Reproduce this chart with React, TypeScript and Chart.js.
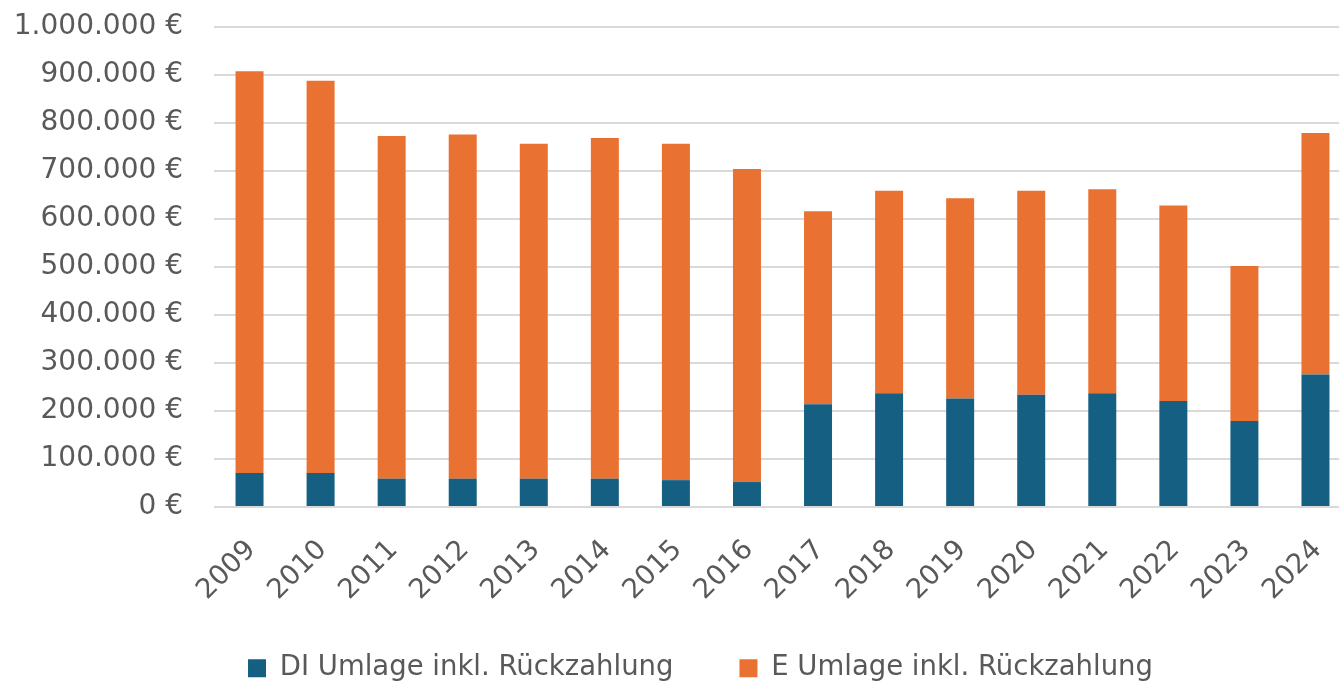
import React, { useEffect, useRef } from "react";
import { Chart, registerables } from "chart.js";

Chart.register(...registerables);

const years = ["2009", "2010", "2011", "2012", "2013", "2014", "2015", "2016", "2017", "2018", "2019", "2020", "2021", "2022", "2023", "2024"];
const diUmlage = [71000, 71000, 59000, 59000, 59000, 59000, 56000, 52000, 214000, 237000, 226000, 234000, 237000, 221000, 179000, 276000];
const eUmlage = [837000, 817000, 714000, 717000, 698000, 710000, 701000, 652000, 402000, 422000, 417000, 425000, 425000, 407000, 323000, 503000];
const seriesNames = ["DI Umlage inkl. Rückzahlung", "E Umlage inkl. Rückzahlung"];
const yMax = 1000000;
const yStep = 100000;

const FONT = "'DejaVu Sans', 'Liberation Sans', sans-serif";
const TEXT = "#595959";
const PAD_LEFT = 50;
const PAD_RIGHT = 10;

// Let the axis labels draw outside their own boxes (no clipping).
const unclipLabels = {
  id: "unclipLabels",
  afterLayout(chart: any) {
    if (chart.scales.x) chart.scales.x.bottom = chart.height;
    if (chart.scales.y) chart.scales.y.left = 0;
  },
};

export default function App() {
  const ref = useRef<HTMLCanvasElement | null>(null);

  useEffect(() => {
    if (!ref.current) return;
    const chart = new Chart(ref.current, {
      type: "bar",
      data: {
        labels: years,
        datasets: [
          { label: seriesNames[0], data: diUmlage, backgroundColor: "#156082" },
          { label: seriesNames[1], data: eUmlage, backgroundColor: "#E97132" },
        ],
      },
      plugins: [unclipLabels],
      options: {
        responsive: false,
        animation: false,
        layout: { padding: { left: PAD_LEFT, top: 27, right: PAD_RIGHT, bottom: 0 } },
        datasets: { bar: { categoryPercentage: 1, barPercentage: 0.394 } },
        scales: {
          x: {
            stacked: true,
            grid: { display: false },
            border: { display: false },
            ticks: {
              color: TEXT,
              font: { family: FONT, size: 27.5 },
              minRotation: 45,
              maxRotation: 45,
              autoSkip: false,
              padding: 19,
              labelOffset: 2,
            },
            afterFit: (s: any) => {
              s.height = 81.5;
            },
          },
          y: {
            stacked: true,
            min: 0,
            max: yMax,
            grid: {
              color: "#d9d9d9",
              lineWidth: 2,
              drawTicks: true,
              tickLength: 31,
              tickColor: "rgba(0,0,0,0)",
            },
            border: { display: false },
            ticks: {
              stepSize: yStep,
              color: TEXT,
              font: { family: FONT, size: 28 },
              padding: 0,
              callback: (v: any) => Number(v).toLocaleString("de-DE") + " €",
            },
            afterFit: (s: any) => {
              s.width = 214 - PAD_LEFT;
            },
          },
        },
        plugins: {
          legend: {
            position: "bottom",
            labels: {
              color: TEXT,
              font: { family: FONT, size: 27.5 },
              boxWidth: 18,
              boxHeight: 18,
              padding: 66,
            },
          },
          tooltip: { enabled: false },
        },
      },
    });
    return () => chart.destroy();
  }, []);

  return (
    <div style={{ position: "fixed", left: 0, top: 0, width: 1339, height: 684, overflow: "hidden", background: "#fff" }}>
      <canvas ref={ref} width={1351 + PAD_RIGHT} height={692} style={{ display: "block" }} />
    </div>
  );
}
